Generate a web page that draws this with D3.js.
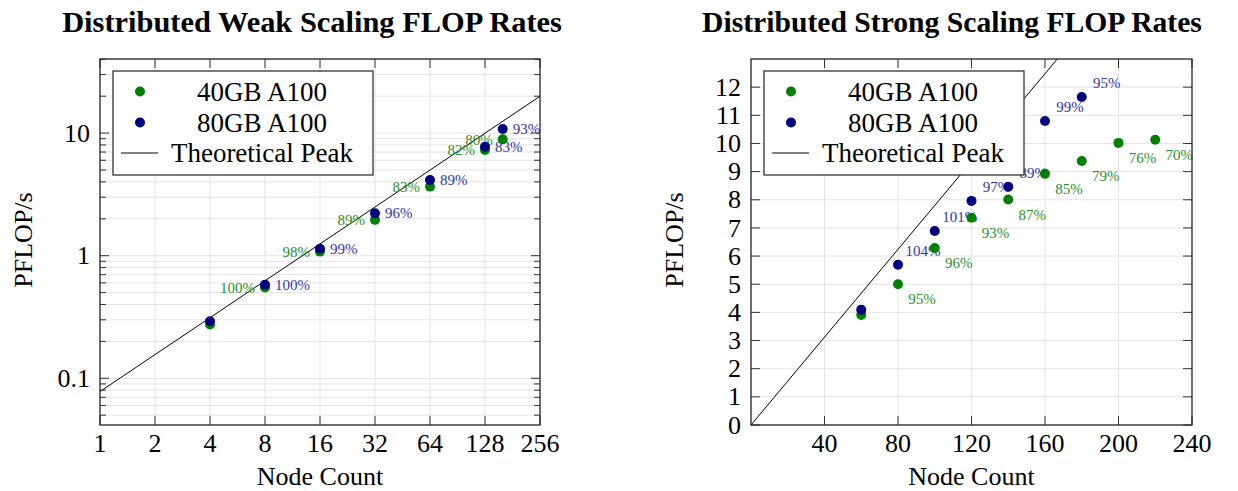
<!DOCTYPE html>
<html>
<head>
<meta charset="utf-8">
<script src="https://cdn.jsdelivr.net/npm/d3@7"></script>
<style>
  body { margin: 0; background: #fff; }
  svg, svg text { font-family: "Liberation Serif", "DejaVu Serif", serif; }
</style>
</head>
<body>
<svg id="chart" width="1238" height="491" font-family="Liberation Serif, serif"></svg>
<script>
// ---- weak scaling data ----
var weakNodes = [4, 8, 16, 32, 64, 128, 160];
var weak40 = [0.275, 0.55, 1.08, 1.96, 3.66, 7.27, 8.89];
var weak80 = [0.292, 0.58, 1.14, 2.22, 4.15, 7.74, 10.8];
var weak40Labels = ["", "100%", "98%", "89%", "83%", "82%", "80%"];
var weak80Labels = ["", "100%", "99%", "96%", "89%", "83%", "93%"];
var weakXTicks = [1, 2, 4, 8, 16, 32, 64, 128, 256];
var weakYTicks = [0.1, 1, 10];

// ---- strong scaling data ----
var strongNodes40 = [60, 80, 100, 120, 140, 160, 180, 200, 220];
var strong40 = [3.91, 5.0, 6.29, 7.36, 8.01, 8.92, 9.38, 10.02, 10.13];
var strong40Labels = ["", "95%", "96%", "93%", "87%", "85%", "79%", "76%", "70%"];
var strongNodes80 = [60, 80, 100, 120, 140, 160, 180];
var strong80 = [4.09, 5.69, 6.89, 7.96, 8.46, 10.8, 11.65];
var strong80Labels = ["", "104%", "101%", "97%", "89%", "99%", "95%"];
var strongXTicks = [40, 80, 120, 160, 200, 240];
var strongYTicks = [0, 1, 2, 3, 4, 5, 6, 7, 8, 9, 10, 11, 12];

// theoretical peak, PFLOP/s per node
var peakPerNode = 0.078;

var seriesNames = ["40GB A100", "80GB A100", "Theoretical Peak"];
var green = "#008000", navy = "#000080";
var greenText = "#2b8f2b", navyText = "#3333a3";
var serif = "'Liberation Serif', 'DejaVu Serif', serif";

var svg = d3.select("#chart");
var gridColor = "#e4e4e4";
var majorLen = 9, minorLen = 6;

function zip(xs, ys, labels) {
  return xs.map(function (x, i) { return { x: x, y: ys[i], label: labels[i] }; });
}

function fitText(sel, width) {
  var w = sel.node().getComputedTextLength();
  var fs = parseFloat(sel.attr("font-size"));
  sel.attr("font-size", fs * width / w);
}

function panel(opt) {
  var x = opt.x, y = opt.y;
  var x0 = x.range()[0], x1 = x.range()[1];
  var y0 = y.range()[0], y1 = y.range()[1];
  var g = svg.append("g").style("font-family", serif);
  var id = opt.id;

  g.append("defs").append("clipPath").attr("id", id + "-clip")
    .append("rect").attr("x", x0).attr("y", y1).attr("width", x1 - x0).attr("height", y0 - y1);

  // grid
  var grid = g.append("g").attr("stroke", gridColor).attr("stroke-width", 1);
  grid.selectAll(".gx").data(opt.xGrid).enter().append("line")
    .attr("x1", function (d) { return x(d); }).attr("x2", function (d) { return x(d); })
    .attr("y1", y0).attr("y2", y1);
  grid.selectAll(".gy").data(opt.yGrid).enter().append("line")
    .attr("x1", x0).attr("x2", x1)
    .attr("y1", function (d) { return y(d); }).attr("y2", function (d) { return y(d); });

  // ticks, inward on all four sides
  var ticks = g.append("g").attr("stroke", "#333").attr("stroke-width", 1);
  function xt(vals, len) {
    vals.forEach(function (v) {
      ticks.append("line").attr("x1", x(v)).attr("x2", x(v)).attr("y1", y0).attr("y2", y0 - len);
      ticks.append("line").attr("x1", x(v)).attr("x2", x(v)).attr("y1", y1).attr("y2", y1 + len);
    });
  }
  function yt(vals, len) {
    vals.forEach(function (v) {
      ticks.append("line").attr("y1", y(v)).attr("y2", y(v)).attr("x1", x0).attr("x2", x0 + len);
      ticks.append("line").attr("y1", y(v)).attr("y2", y(v)).attr("x1", x1).attr("x2", x1 - len);
    });
  }
  xt(opt.xTicks, majorLen);
  yt(opt.yTicks, majorLen);
  yt(opt.yMinor || [], minorLen);

  // theoretical peak line
  var peak = opt.peakX.map(function (n) { return [n, n * peakPerNode]; });
  g.append("path")
    .attr("clip-path", "url(#" + id + "-clip)")
    .attr("d", d3.line().x(function (d) { return x(d[0]); }).y(function (d) { return y(d[1]); })(peak))
    .attr("fill", "none").attr("stroke", "#000").attr("stroke-width", 1);

  // percentage labels
  function labels(data, color, place) {
    g.append("g").selectAll("text").data(data.filter(function (d) { return d.label; })).enter()
      .append("text")
      .attr("x", function (d) { return x(d.x) + place.dx; })
      .attr("y", function (d) { return y(d.y) + place.dy; })
      .attr("dy", "0.35em")
      .attr("text-anchor", place.anchor)
      .attr("font-size", 15)
      .attr("fill", color)
      .text(function (d) { return d.label; });
  }
  labels(opt.s40, greenText, opt.place40);
  labels(opt.s80, navyText, opt.place80);

  // markers
  function dots(data, color) {
    g.append("g").selectAll("circle").data(data).enter().append("circle")
      .attr("cx", function (d) { return x(d.x); })
      .attr("cy", function (d) { return y(d.y); })
      .attr("r", 5).attr("fill", color);
  }
  dots(opt.s40, green);
  dots(opt.s80, navy);

  // frame
  g.append("rect").attr("x", x0).attr("y", y1).attr("width", x1 - x0).attr("height", y0 - y1)
    .attr("fill", "none").attr("stroke", "#222").attr("stroke-width", 1.3);

  // tick labels
  g.append("g").selectAll("text").data(opt.xTicks).enter().append("text")
    .attr("x", function (d) { return x(d); }).attr("y", y0 + 27)
    .attr("text-anchor", "middle").attr("font-size", 26)
    .text(function (d) { return d; });
  g.append("g").selectAll("text").data(opt.yTicks).enter().append("text")
    .attr("x", x0 - 10).attr("y", function (d) { return y(d); }).attr("dy", "0.33em")
    .attr("text-anchor", "end").attr("font-size", 26)
    .text(function (d) { return d; });

  // axis labels
  g.append("text").attr("x", (x0 + x1) / 2).attr("y", 485)
    .attr("text-anchor", "middle").attr("font-size", 26).text("Node Count");
  g.append("text").attr("transform", "translate(" + (x0 - 68) + ",240) rotate(-90)")
    .attr("text-anchor", "middle").attr("font-size", 26).text("PFLOP/s");

  // title
  var t = g.append("text").attr("x", opt.titleX).attr("y", 32)
    .attr("text-anchor", "middle").attr("font-size", 22).attr("font-weight", "bold")
    .text(opt.title);
  fitText(t, opt.titleW);

  // legend
  var lx = x0 + 13, ly = y1 + 12;
  var lg = g.append("g").attr("transform", "translate(" + lx + "," + ly + ")");
  lg.append("rect").attr("width", 260).attr("height", 104)
    .attr("fill", "#fff").attr("stroke", "#222").attr("stroke-width", 1.2);
  var rows = [20.5, 51.5, 82];
  lg.append("circle").attr("cx", 27).attr("cy", rows[0]).attr("r", 5).attr("fill", green);
  lg.append("circle").attr("cx", 27).attr("cy", rows[1]).attr("r", 5).attr("fill", navy);
  lg.append("line").attr("x1", 8).attr("x2", 45).attr("y1", rows[2]).attr("y2", rows[2])
    .attr("stroke", "#000").attr("stroke-width", 1);
  lg.selectAll(".lt").data(seriesNames).enter().append("text")
    .attr("x", 149).attr("y", function (d, i) { return rows[i]; }).attr("dy", "0.35em")
    .attr("text-anchor", "middle").attr("font-size", 27)
    .text(function (d) { return d; });
}

// ---- left: weak scaling (log-log) ----
var wx = d3.scaleLog().base(2).domain([1, 256]).range([100, 540]);
var wy = d3.scaleLog().domain([0.0416, 40.2]).range([425, 59]);
var wyMinor = [];
[0.01, 0.1, 1, 10].forEach(function (dec) {
  for (var k = 2; k <= 9; k++) {
    var v = dec * k;
    if (v >= wy.domain()[0] && v <= wy.domain()[1]) wyMinor.push(v);
  }
});

panel({
  id: "weak", x: wx, y: wy,
  xTicks: weakXTicks, yTicks: weakYTicks, yMinor: wyMinor,
  xGrid: weakXTicks.slice(1, -1), yGrid: weakYTicks.concat(wyMinor),
  peakX: [1, 256],
  s40: zip(weakNodes, weak40, weak40Labels),
  s80: zip(weakNodes, weak80, weak80Labels),
  place40: { dx: -10, dy: 0, anchor: "end" },
  place80: { dx: 10, dy: 0, anchor: "start" },
  title: "Distributed Weak Scaling FLOP Rates", titleX: 312, titleW: 500
});

// ---- right: strong scaling (linear) ----
var sx = d3.scaleLinear().domain([0, 240]).range([751, 1192]);
var sy = d3.scaleLinear().domain([0, 13]).range([425, 59]);

panel({
  id: "strong", x: sx, y: sy,
  xTicks: strongXTicks, yTicks: strongYTicks,
  xGrid: strongXTicks.slice(0, -1), yGrid: strongYTicks.slice(1),
  peakX: [0, 240],
  s40: zip(strongNodes40, strong40, strong40Labels),
  s80: zip(strongNodes80, strong80, strong80Labels),
  place40: { dx: 24, dy: 15, anchor: "middle" },
  place80: { dx: 25, dy: -14, anchor: "middle" },
  title: "Distributed Strong Scaling FLOP Rates", titleX: 952, titleW: 500
});
</script>
</body>
</html>
